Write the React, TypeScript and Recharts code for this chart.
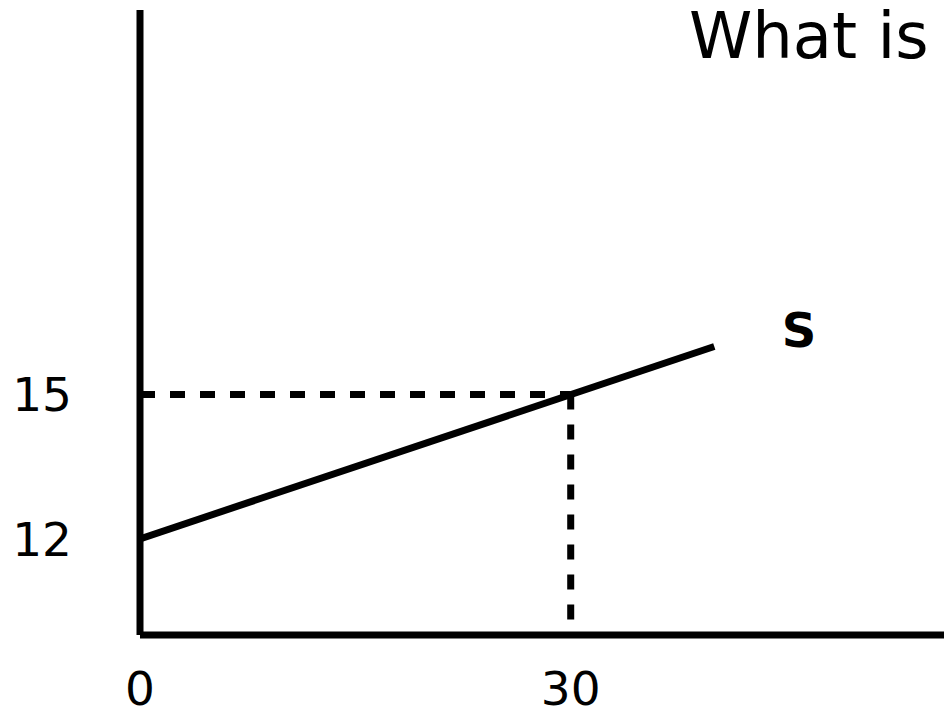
import {
  ComposedChart,
  Line,
  XAxis,
  YAxis,
  ReferenceLine,
  ReferenceDot,
} from "recharts";

// supply curve S: price rises from 12 at q=0
const supplyQ = [0, 40];
const supplyP = [12, 16];

const xTicks = [0, 30];
const yTicks = [12, 15];

const eqQ = 30;
const eqP = 15;

const curveLabel = "S";
const title = "What is";

const font = "'DejaVu Sans', sans-serif";

export default function App() {
  const data = supplyQ.map((q, i) => ({ q, p: supplyP[i] }));

  return (
    <div style={{ position: "absolute", left: 0, top: 0, width: 944, height: 711, background: "#fff" }}>
      <ComposedChart
        width={944}
        height={711}
        data={data}
        margin={{ top: 10, right: 0, bottom: 0, left: 0 }}
      >
        <XAxis
          dataKey="q"
          type="number"
          domain={[0, 56]}
          ticks={xTicks}
          height={76}
          tickLine={false}
          tickSize={0}
          tickMargin={37}
          axisLine={{ stroke: "#000", strokeWidth: 7 }}
          tick={{ fill: "#000", fontSize: 47, fontFamily: font }}
          allowDataOverflow
        />
        <YAxis
          type="number"
          domain={[10, 23]}
          ticks={yTicks}
          width={140}
          tickLine={false}
          tickSize={0}
          tickMargin={68}
          axisLine={{ stroke: "#000", strokeWidth: 7 }}
          tick={{ fill: "#000", fontSize: 47, fontFamily: font }}
          allowDataOverflow
        />
        <ReferenceLine
          segment={[{ x: 0, y: eqP }, { x: eqQ, y: eqP }]}
          stroke="#000"
          strokeWidth={7}
          strokeDasharray="15 15"
          ifOverflow="visible"
        />
        <ReferenceLine
          segment={[{ x: eqQ, y: eqP }, { x: eqQ, y: 10 }]}
          stroke="#000"
          strokeWidth={7}
          strokeDasharray="15 15"
          ifOverflow="visible"
        />
        <Line
          dataKey="p"
          type="linear"
          stroke="#000"
          strokeWidth={7}
          dot={false}
          activeDot={false}
          isAnimationActive={false}
        />
        <ReferenceDot
          x={45.9}
          y={16.35}
          r={0}
          fill="none"
          stroke="none"
          ifOverflow="visible"
          label={{
            value: curveLabel,
            position: "center",
            fill: "#000",
            fontSize: 48,
            fontWeight: "bold",
            fontFamily: font,
          }}
        />
      </ComposedChart>
      <div
        style={{
          position: "absolute",
          left: 689,
          top: 4,
          fontSize: 64,
          lineHeight: "64px",
          fontFamily: font,
          color: "#000",
          whiteSpace: "nowrap",
        }}
      >
        {title}
      </div>
    </div>
  );
}
